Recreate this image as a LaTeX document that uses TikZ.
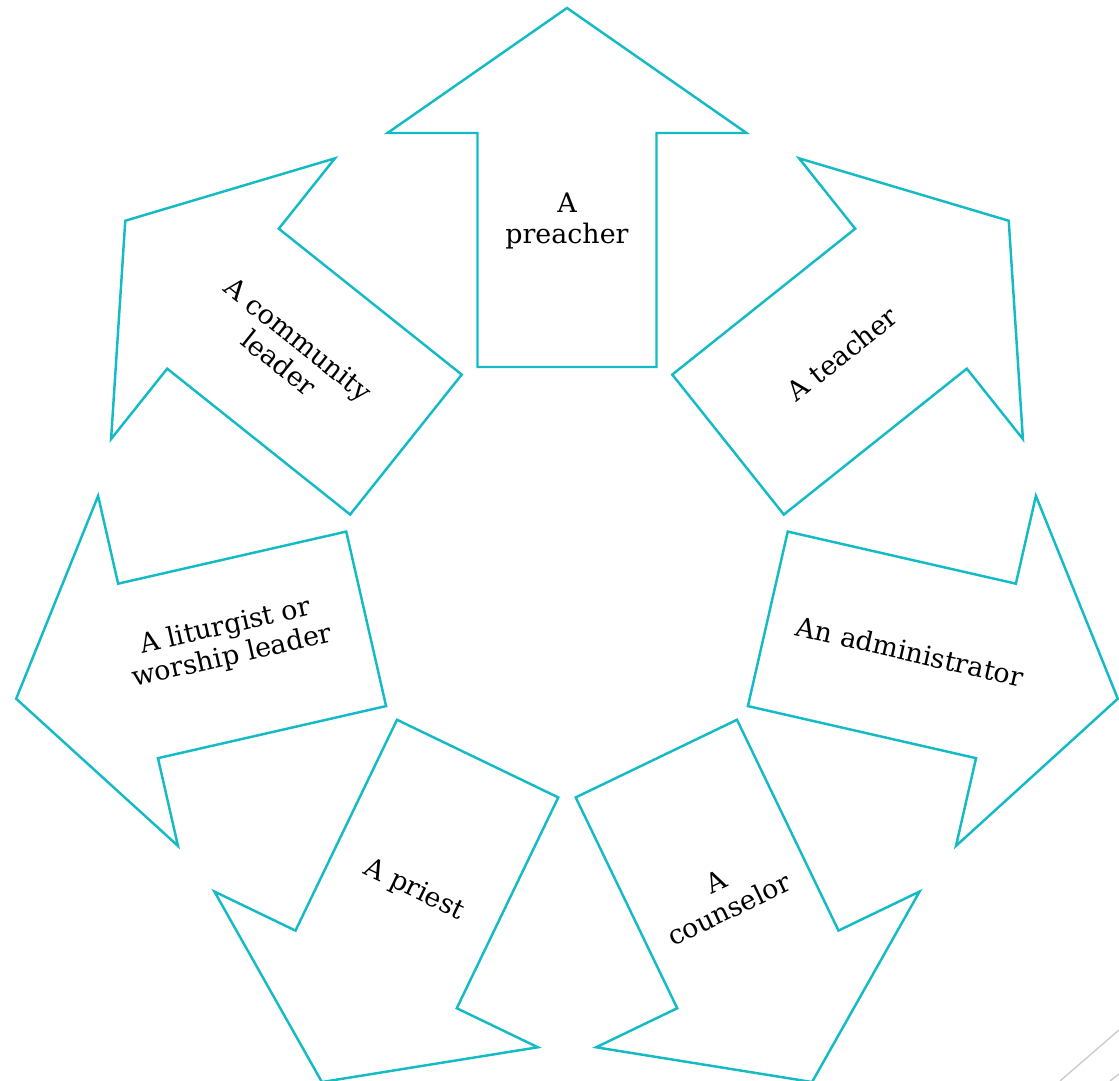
\documentclass[tikz,border=0pt]{standalone}
\usepackage{fontspec}
\setmainfont{DejaVu Serif}
\definecolor{roleteal}{RGB}{20,187,197}
\tikzset{
  rolearrow/.style = {draw=roleteal, line width=1.4pt, line join=miter},
  rolelabel/.style = {align=center, font=\fontsize{15.3}{17.5}\selectfont, inner sep=0pt},
}

\begin{document}
\begin{tikzpicture}[x=0.02cm, y=0.02cm]
    \useasboundingbox (-567,-508) rectangle (552,573);
    % seven outward arrows, one every 360/7 degrees
    \foreach \ang in {0,-51.43,-102.86,-154.29,154.29,102.86,51.43}
        \draw [rolearrow, rotate=\ang] (-89.5,206) -- (89.5,206) -- (89.5,440) -- (179.5,440)
            -- (0,565) -- (-179.5,440) -- (-89.5,440) -- cycle;
    \node [rolelabel] (preacher) at (90:352) {A\\preacher};
    \node [rolelabel, rotate=38.57] (teacher) at (38.57:352) {A teacher};
    \node [rolelabel, rotate=-12.86] (admin) at (-12.86:352) {An administrator};
    \node [rolelabel, rotate=25.71] (counselor) at (-64.29:358) {A\\counselor};
    \node [rolelabel, rotate=-25.71] (priest) at (244.29:352) {A priest};
    \node [rolelabel, rotate=12.86] (liturgist) at (191.5:345) {A liturgist or\\worship leader};
    \node [rolelabel, rotate=-38.57] (community) at (141.43:356) {A community\\leader};
    % slide corner marks
    \draw [gray!40, line width=0.8pt] (493,-508) -- (552,-457);
    \draw [gray!40, line width=0.8pt] (543,-508) -- (552,-501);
\end{tikzpicture}
\end{document}
